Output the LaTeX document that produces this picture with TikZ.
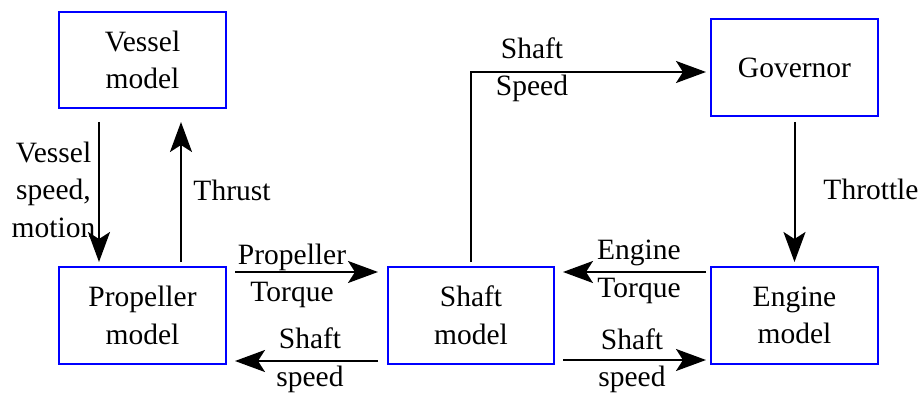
\documentclass[tikz,border=0pt]{standalone}
\usepackage{fontspec}
\setmainfont{Liberation Serif}
\usetikzlibrary{arrows.meta,calc}
\begin{document}
\begin{tikzpicture}[x=1pt,y=-1pt,
  every node/.style={font=\fontsize{29.5}{37.5}\selectfont},
  box/.style={draw=blue, line width=2pt, minimum width=167pt, minimum height=97pt, align=center, inner sep=0pt},
  lbl/.style={align=center, inner sep=0pt},
  arr/.style={line width=2pt, -{Stealth[length=30pt,width=22pt,inset=7pt]}}]
\useasboundingbox (0,0) rectangle (922,393);
\node[box, minimum height=96pt] (vessel) at (142.5,60) {Vessel\\model};
\node[box] (prop) at (142.5,315.5) {Propeller\\model};
\node[box, minimum width=166pt] (shaft) at (471,315.5) {Shaft\\model};
\node[box] (gov) at (794.5,67.5) {Governor};
\node[box] (engine) at (794.5,315.5) {Engine\\model};
% connectors
\draw[arr] ($(vessel.south west)+(41,13)$) -- ($(prop.north west)+(41,-4)$);
\draw[arr] ($(prop.north west)+(123,-4)$) -- ($(vessel.south west)+(123,13)$);
\draw[arr] ($(prop.north east)+(8,6)$) -- ($(shaft.north west)+(-9,6)$);
\draw[arr] ($(shaft.south west)+(-9,-4)$) -- ($(prop.south east)+(8,-4)$);
\draw[arr] ($(engine.north west)+(-4,6)$) -- ($(shaft.north east)+(8,6)$);
\draw[arr] ($(shaft.south east)+(8,-5)$) -- ($(engine.south west)+(-4,-5)$);
\draw[arr] ($(shaft.north)+(0,-4)$) |- ($(gov.west)+(-4,4.5)$);
\draw[arr] ($(gov.south)+(0,5)$) -- ($(engine.north)+(0,-4)$);
% labels
\node[lbl] (lvs) at (53.5,189.5) {Vessel\\speed,\\motion};
\node[lbl, anchor=base] (lth) at (232,200.5) {Thrust};
\node[lbl] (lpt) at (292,276) {Propeller\\Torque};
\node[lbl] (lss1) at (310,360.3) {Shaft\\speed};
\node[lbl] (let) at (639,272) {Engine\\Torque};
\node[lbl] (lss2) at (632,361) {Shaft\\speed};
\node[lbl] (lsg) at (532,70) {Shaft\\Speed};
\node[lbl, anchor=base] (lthr) at (871,199.5) {Throttle};
\end{tikzpicture}
\end{document}
